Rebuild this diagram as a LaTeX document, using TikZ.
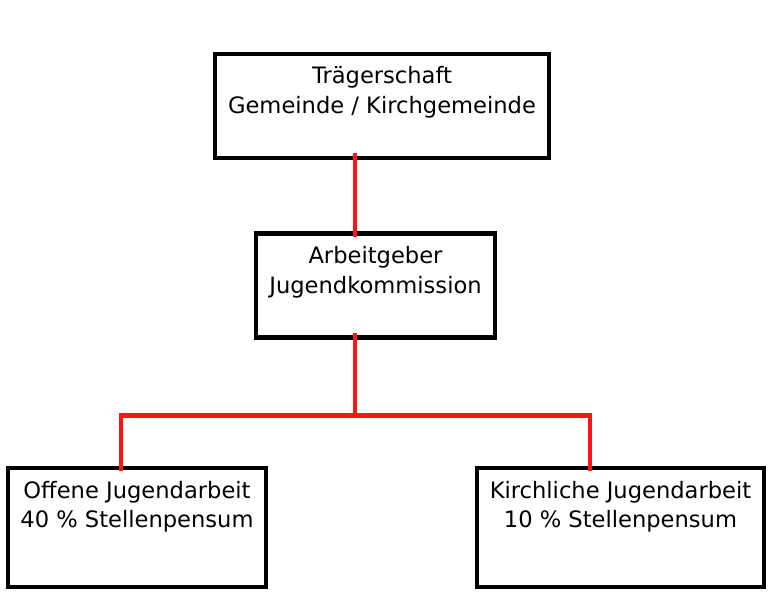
\documentclass[tikz,border=0pt]{standalone}
\usepackage{fontspec}
\setmainfont{DejaVu Sans}
\usetikzlibrary{calc}
\definecolor{linkred}{RGB}{255,20,20}
\tikzset{
  orgbox/.style={draw=black, line width=4.3pt, rectangle, inner sep=0pt, outer sep=0pt, fill=white},
  orgtext/.style={anchor=base, align=center, inner sep=0pt, font=\fontsize{22.6}{29.7}\selectfont},
  conn/.style={draw=linkred, line width=4.2pt},
}
\begin{document}
\begin{tikzpicture}[x=1pt,y=-1pt]
\useasboundingbox (0,0) rectangle (773,597);
\node[orgbox, minimum width=334pt, minimum height=104pt] (top) at (382,106) {};
\node[orgbox, minimum width=239pt, minimum height=104pt] (mid) at (375.5,285.5) {};
\node[orgbox, minimum width=258pt, minimum height=119pt] (left) at (137,527.5) {};
\node[orgbox, minimum width=287pt, minimum height=119pt] (right) at (620.5,527.5) {};
\node[orgtext] (toptext) at ($(top.north)+(0,59.5)$) {Trägerschaft\\Gemeinde / Kirchgemeinde};
\node[orgtext] (midtext) at ($(mid.north)+(0,59.5)$) {Arbeitgeber\\Jugendkommission};
\node[orgtext] (lefttext) at ($(left.north)+(0,59.8)$) {Offene Jugendarbeit\\40 \% Stellenpensum};
\node[orgtext] (righttext) at ($(right.north)+(0,59.8)$) {Kirchliche Jugendarbeit\\10 \% Stellenpensum};
\coordinate (j) at (355.3,415.5);
\coordinate (cl) at (121,415.5);
\coordinate (cr) at (590,415.5);
\draw[conn, shorten <=-5pt, shorten >=-3.5pt] (j |- top.south) -- (j |- mid.north);
\draw[conn, shorten <=-4.5pt] (j |- mid.south) -- (j);
\draw[conn, shorten <=-3pt, shorten >=-3pt] (cl |- left.north) -- (cl) -- (cr) -- (cr |- right.north);
\end{tikzpicture}
\end{document}
